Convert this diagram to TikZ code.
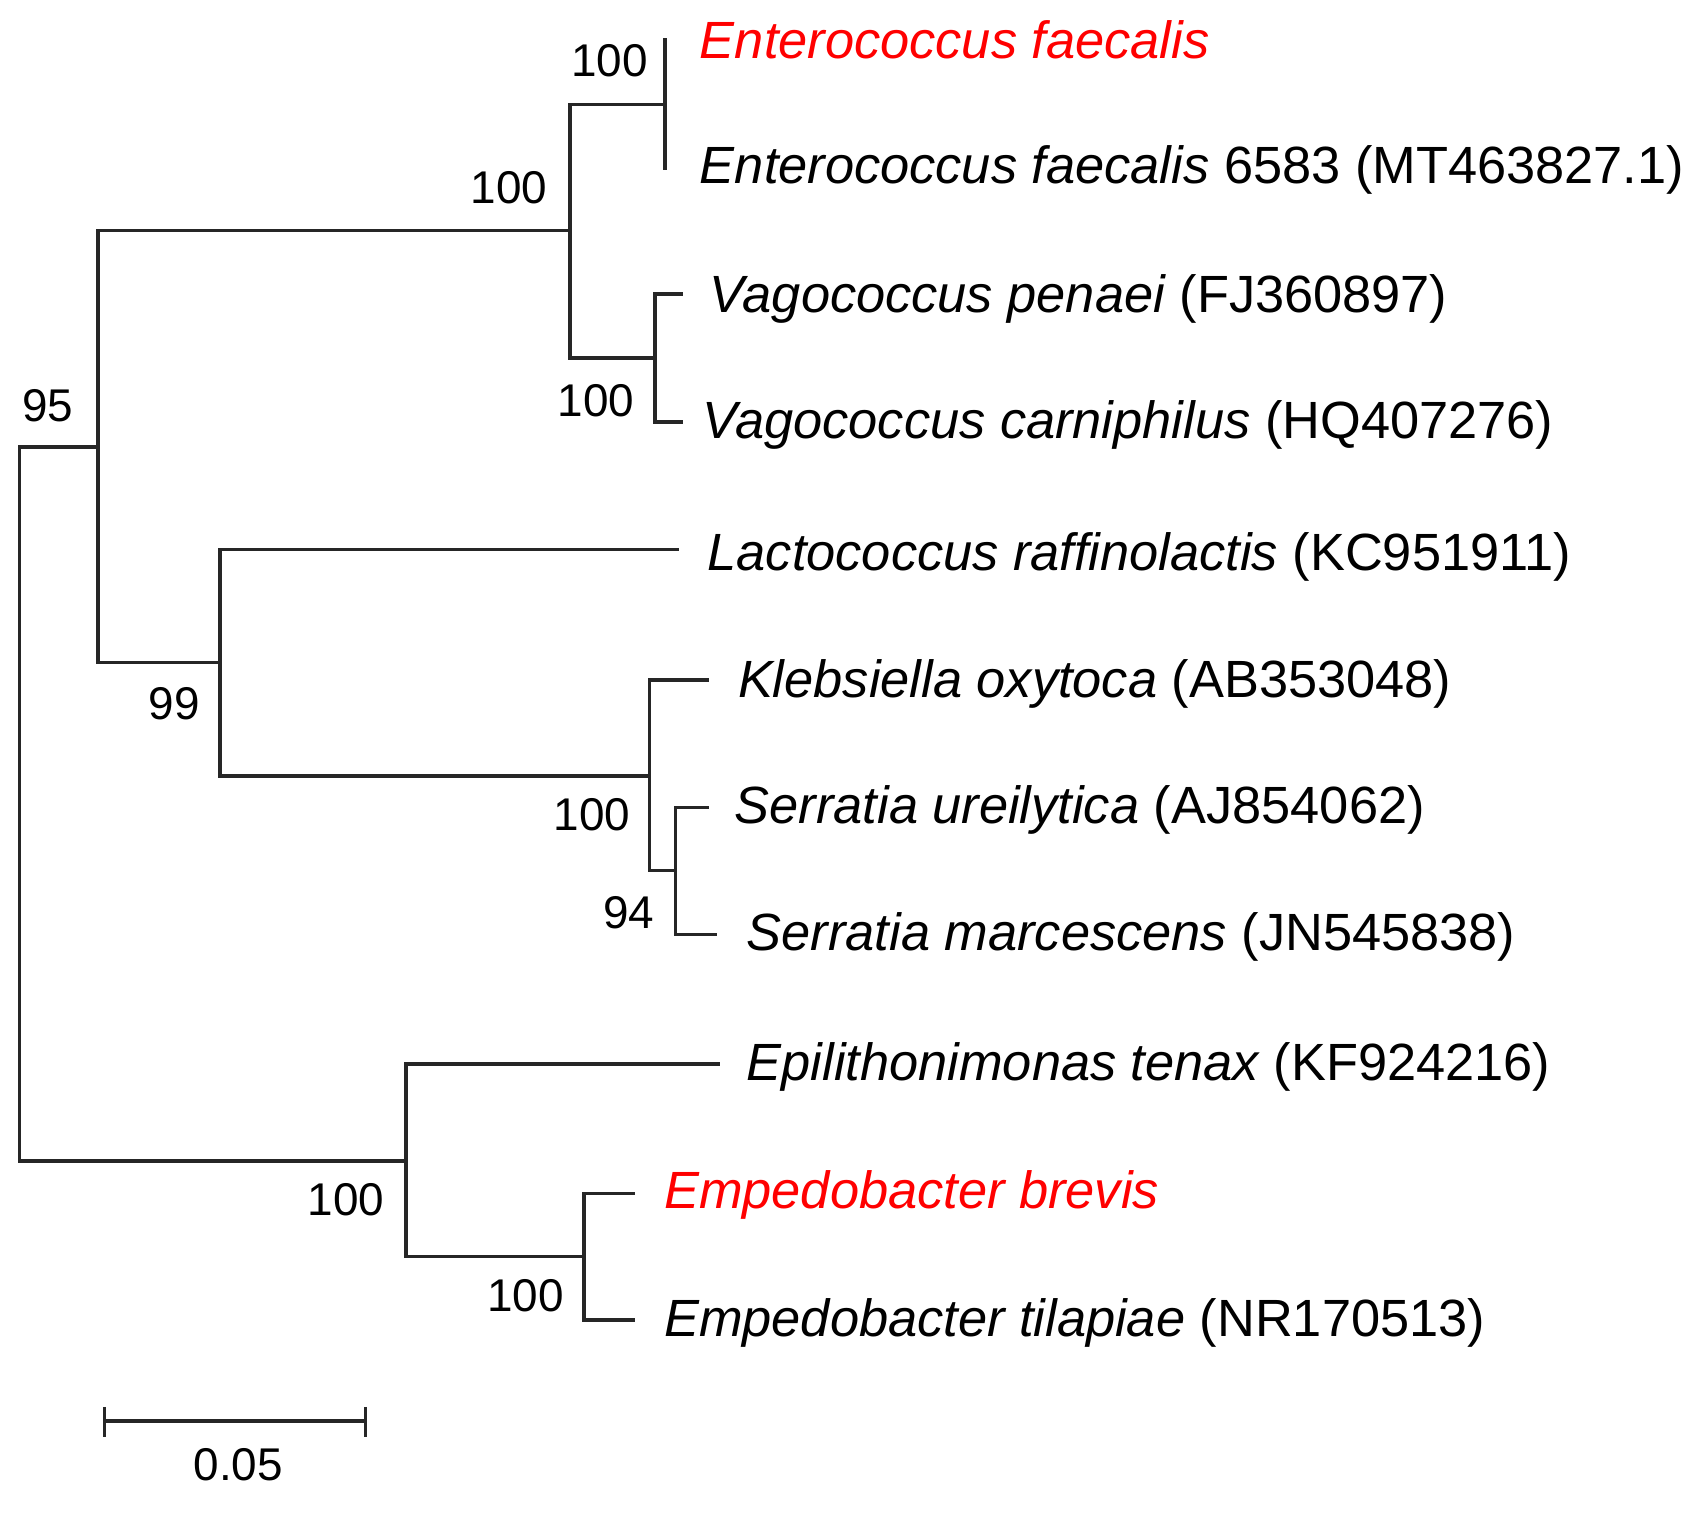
\documentclass[tikz,border=0pt]{standalone}
\usepackage{fontspec}
\setmainfont{Liberation Sans}
\begin{document}
\begin{tikzpicture}[x=0.02cm,y=-0.02cm,
  branch/.style={line width=1.9pt,draw=black!85,line cap=rect},
  taxon/.style={anchor=base west,inner sep=0pt,font=\fontsize{27.4}{30}\selectfont},
  boot/.style={anchor=base,inner sep=0pt,font=\fontsize{24}{26}\selectfont}]
\useasboundingbox (0,0) rectangle (1568,1394);
% internal nodes
\coordinate (root) at (18,739);
\coordinate (n95) at (90,411);
\coordinate (nEV) at (524,212);
\coordinate (nEnt) at (611,96);
\coordinate (nVag) at (602,329);
\coordinate (n99) at (202,609);
\coordinate (nKS) at (597,713);
\coordinate (n94) at (621,800);
\coordinate (nB) at (373,1067);
\coordinate (nEmp) at (537,1155);
% tips
\coordinate (tEf) at (611,37);
\coordinate (tEf6) at (611,155);
\coordinate (tVp) at (626,270);
\coordinate (tVc) at (626,388);
\coordinate (tLr) at (622,505);
\coordinate (tKo) at (650,625);
\coordinate (tSu) at (650,742);
\coordinate (tSm) at (657,859);
\coordinate (tEt) at (660,978);
\coordinate (tEb) at (582,1097);
\coordinate (tEti) at (582,1213);
% branches
\draw[branch] (root) |- (n95);
\draw[branch] (root) |- (nB);
\draw[branch] (n95) |- (nEV);
\draw[branch] (n95) |- (n99);
\draw[branch] (nEV) |- (nEnt);
\draw[branch] (nEV) |- (nVag);
\draw[branch] (nEnt) -- (tEf);
\draw[branch] (nEnt) -- (tEf6);
\draw[branch] (nVag) |- (tVp);
\draw[branch] (nVag) |- (tVc);
\draw[branch] (n99) |- (tLr);
\draw[branch] (n99) |- (nKS);
\draw[branch] (nKS) |- (tKo);
\draw[branch] (nKS) |- (n94);
\draw[branch] (n94) |- (tSu);
\draw[branch] (n94) |- (tSm);
\draw[branch] (nB) |- (tEt);
\draw[branch] (nB) |- (nEmp);
\draw[branch] (nEmp) |- (tEb);
\draw[branch] (nEmp) |- (tEti);
% taxon labels
\node[taxon,text=red] (lEf) at (643,54) {\itshape Enterococcus faecalis};
\node[taxon] (lEf6) at (643,169) {\itshape Enterococcus faecalis\upshape{} 6583 (MT463827.1)};
\node[taxon] (lVp) at (652,287) {\itshape Vagococcus penaei\upshape{} (FJ360897)};
\node[taxon] (lVc) at (645,403) {\itshape Vagococcus carniphilus\upshape{} (HQ407276)};
\node[taxon] (lLr) at (650,524) {\itshape Lactococcus raffinolactis\upshape{} (KC951911)};
\node[taxon] (lKo) at (678,641) {\itshape Klebsiella oxytoca\upshape{} (AB353048)};
\node[taxon] (lSu) at (675,757) {\itshape Serratia ureilytica\upshape{} (AJ854062)};
\node[taxon] (lSm) at (686,874) {\itshape Serratia marcescens\upshape{} (JN545838)};
\node[taxon] (lEt) at (686,993) {\itshape Epilithonimonas tenax\upshape{} (KF924216)};
\node[taxon,text=red] (lEb) at (610,1111) {\itshape Empedobacter brevis};
\node[taxon] (lEti) at (610,1228) {\itshape Empedobacter tilapiae\upshape{} (NR170513)};
% bootstrap values
\node[boot] (b1) at (560,70) {100};
\node[boot] (b2) at (468,187) {100};
\node[boot] (b3) at (548,383) {100};
\node[boot] (b4) at (44,387) {95};
\node[boot] (b5) at (160,661) {99};
\node[boot] (b6) at (544,763) {100};
\node[boot] (b7) at (578,853) {94};
\node[boot] (b8) at (318,1117) {100};
\node[boot] (b9) at (483,1205) {100};
% scale bar
\coordinate (sL) at (96,1306);
\coordinate (sR) at (336,1306);
\draw[branch] (sL) -- (sR);
\draw[branch,line cap=butt] ([yshift=0.26cm]sL) -- ([yshift=-0.30cm]sL);
\draw[branch,line cap=butt] ([yshift=0.26cm]sR) -- ([yshift=-0.30cm]sR);
\node[boot] (sc) at (219,1361) {0.05};
\end{tikzpicture}
\end{document}
